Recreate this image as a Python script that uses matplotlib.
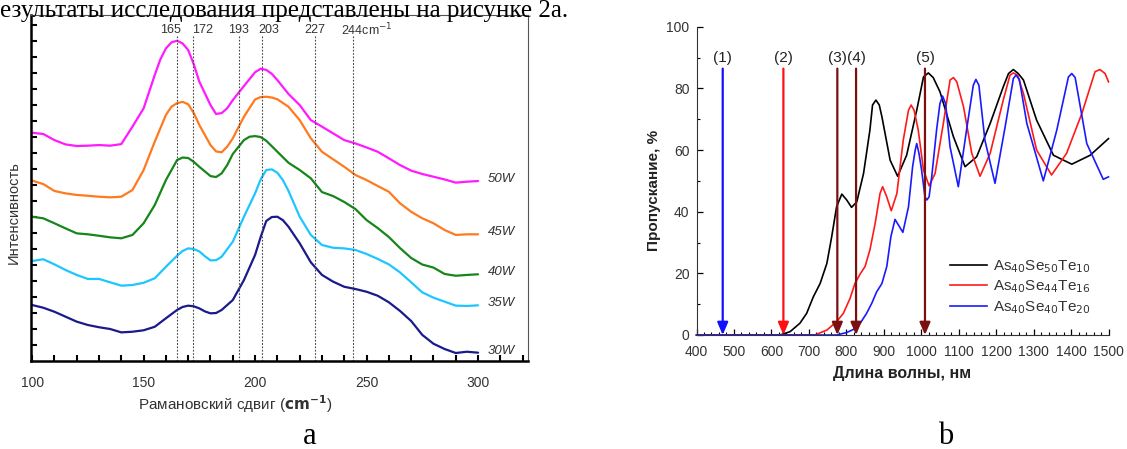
import numpy as np
import matplotlib
matplotlib.use("Agg")
import matplotlib.pyplot as plt

plt.rcParams['font.family'] = ['Liberation Sans', 'DejaVu Sans']

# ---- (a) Raman spectra, one shift list per trace ----
shift_50w = [100, 105, 110, 115, 120, 125, 130, 135, 140, 145, 150, 155, 157.5, 160,
             162.5, 165, 167.5, 170, 172.5, 175, 180, 182.5, 185, 187.5, 190, 195, 200,
             202.5, 205, 207.5, 210, 215, 220, 225, 230, 235, 240, 245, 250, 255, 260,
             265, 270, 275, 280, 285, 290, 295, 300]
int_50w = [14.27, 14.19, 13.81, 13.54, 13.44, 13.46, 13.50, 13.46, 13.56, 14.65, 15.79,
           17.88, 18.85, 19.54, 19.92, 20.02, 19.85, 19.44, 18.55, 17.46, 16.00, 15.44,
           15.50, 15.80, 16.31, 17.19, 18.05, 18.27, 18.20, 17.95, 17.56, 16.69, 16.00,
           15.06, 14.65, 14.23, 13.81, 13.60, 13.35, 13.08, 12.67, 12.25, 11.90, 11.69,
           11.52, 11.35, 11.15, 11.21, 11.25]

shift_45w = [100, 105, 110, 115, 120, 125, 130, 135, 140, 145, 150, 155, 160, 162.5,
             165, 167.5, 170, 172.5, 175, 180, 182.5, 185, 187.5, 190, 195, 200, 202.5,
             205, 207.5, 210, 215, 220, 225, 230, 235, 240, 245, 250, 255, 260, 265,
             270, 275, 280, 285, 290, 295, 300]
int_45w = [11.28, 11.06, 10.63, 10.48, 10.38, 10.33, 10.27, 10.23, 10.27, 10.69, 11.94,
           13.71, 15.38, 15.90, 16.12, 16.20, 16.05, 15.50, 14.75, 13.50, 13.10, 13.05,
           13.40, 13.92, 15.27, 16.35, 16.50, 16.52, 16.47, 16.36, 15.89, 15.06, 13.92,
           13.08, 12.61, 12.14, 11.63, 11.31, 10.94, 10.58, 9.86, 9.33, 8.92, 8.61,
           8.19, 7.88, 7.92, 7.92]

shift_40w = [100, 105, 110, 115, 120, 125, 130, 135, 140, 145, 150, 155, 160, 165,
             167.5, 170, 172.5, 175, 180, 182.5, 185, 187.5, 190, 195, 197.5, 200, 202.5,
             205, 210, 215, 220, 225, 230, 235, 240, 245, 250, 255, 260, 265, 270, 275,
             280, 285, 290, 295, 300]
int_40w = [9.02, 8.92, 8.61, 8.29, 7.98, 7.92, 7.83, 7.73, 7.67, 7.88, 8.61, 9.75,
           11.31, 12.56, 12.72, 12.69, 12.45, 12.14, 11.56, 11.50, 11.73, 12.25, 12.94,
           13.81, 14.02, 14.06, 14.00, 13.77, 13.08, 12.39, 11.94, 11.42, 10.56, 10.31,
           9.94, 9.50, 8.81, 8.31, 7.75, 7.06, 6.44, 6.03, 5.84, 5.44, 5.33, 5.38, 5.42]

shift_35w = [100, 105, 110, 115, 120, 125, 130, 135, 140, 145, 150, 155, 160, 165,
             167.5, 170, 172.5, 175, 177.5, 180, 182.5, 185, 190, 195, 200, 202.5, 205,
             207.5, 210, 212.5, 215, 220, 225, 230, 235, 240, 245, 250, 255, 260, 265,
             270, 275, 280, 285, 290, 295, 300]
int_35w = [6.25, 6.36, 6.04, 5.69, 5.38, 5.13, 5.13, 4.92, 4.71, 4.75, 4.89, 5.17,
           5.89, 6.58, 6.88, 7.04, 7.00, 6.85, 6.55, 6.29, 6.30, 6.52, 7.46, 9.02,
           10.48, 11.35, 11.94, 11.98, 11.77, 11.30, 10.63, 9.02, 7.88, 7.25, 7.08,
           7.04, 6.94, 6.69, 6.38, 6.04, 5.54, 4.92, 4.29, 3.96, 3.71, 3.46, 3.44, 3.48]

shift_30w = [100, 105, 110, 115, 120, 125, 130, 135, 140, 145, 150, 155, 160, 165,
             167.5, 170, 172.5, 175, 177.5, 180, 182.5, 185, 190, 195, 200, 202.5, 205,
             207.5, 210, 212.5, 215, 220, 225, 230, 235, 240, 245, 250, 255, 260, 265,
             270, 275, 280, 285, 290, 295, 300]
int_30w = [3.50, 3.33, 3.08, 2.77, 2.46, 2.25, 2.11, 2.00, 1.79, 1.83, 1.92, 2.14,
           2.67, 3.19, 3.38, 3.46, 3.42, 3.29, 3.10, 2.98, 3.00, 3.19, 3.81, 5.06,
           6.63, 7.75, 8.75, 9.00, 9.02, 8.80, 8.39, 7.36, 6.17, 5.38, 4.96, 4.64,
           4.50, 4.33, 4.08, 3.67, 3.13, 2.50, 1.63, 1.08, 0.75, 0.50, 0.58, 0.52]

powers = ['50W', '45W', '40W', '35W', '30W']
peaks = [165, 172, 193, 203, 227, 244]
peak_labels = ['165', '172', '193', '203', '227', '244cm$^{-1}$']

# ---- (b) transmission spectra ----
wl_10 = [400, 623, 650, 676, 694, 712, 730, 748, 761, 774, 788, 801, 814, 828,
         846, 863, 870, 879, 888, 895, 917, 937, 961, 988, 1006, 1019, 1032, 1050,
         1086, 1117, 1148, 1184, 1219, 1233, 1246, 1259, 1273, 1308, 1353, 1402,
         1451, 1500]
tr_10 = [0, 0, 1.1, 3.8, 7.0, 12.4, 16.7, 23.2, 31.9, 41.6, 45.7, 43.8, 41.4, 43.2,
         52.4, 66.5, 74.6, 76.2, 74.6, 70.8, 56.7, 51.5, 58.3, 72.9, 83.7, 85.0, 83.5, 78.9,
         64.3, 54.6, 57.8, 68.6, 80.5, 84.8, 86.1, 84.8, 82.7, 69.7, 58.3, 55.4,
         58.3, 63.7]
wl_16 = [400, 716, 748, 774, 792, 810, 823, 837, 850, 863, 877, 890, 897, 908,
         920, 935, 952, 966, 973, 981, 992, 1006, 1021, 1037, 1059, 1077, 1086, 1095,
         1113, 1135, 1157, 1184, 1219, 1237, 1246, 1257, 1273, 1308, 1348, 1388,
         1429, 1464, 1477, 1491, 1500]
tr_16 = [0, 0, 1.6, 4.3, 7.0, 11.9, 16.7, 19.8, 22.2, 27.6, 36.2, 45.9, 48.1, 44.8,
         40.3, 45.9, 63.2, 72.9, 74.6, 72.9, 66.5, 53.5, 48.4, 52.4, 68.6, 82.7, 83.5, 82.1,
         74.0, 58.9, 51.5, 58.9, 76.2, 84.3, 85.0, 84.3, 78.3, 60.0, 51.9, 58.9,
         71.9, 85.4, 86.1, 84.8, 82.1]
wl_20 = [400, 774, 801, 819, 837, 854, 868, 881, 895, 908, 919, 930, 951, 966,
         977, 984, 988, 994, 1001, 1010, 1015, 1021, 1028, 1041, 1050, 1057, 1065, 1077,
         1099, 1121, 1139, 1146, 1154, 1170, 1197, 1224, 1246, 1253, 1262, 1282,
         1326, 1362, 1393, 1402, 1411, 1442, 1486, 1500]
tr_20 = [0, 0, 0.8, 1.8, 3.8, 7.0, 10.3, 14.0, 16.7, 22.2, 31.9, 37.5, 33.3, 41.6,
         54.6, 60.0, 62.1, 58.9, 53.5, 44.8, 43.8, 44.8, 51.3, 66.5, 75.1, 77.5, 75.1, 61.0,
         48.1, 66.5, 81.0, 82.9, 81.0, 63.2, 49.2, 67.5, 83.2, 84.3, 82.9, 68.6,
         50.0, 66.5, 83.7, 84.8, 83.5, 62.1, 50.5, 51.3]
laser_nm = [470, 632, 776, 826, 1010]
laser_tags = ['(1)', '(2)', '(3)', '(4)', '(5)']

W, H = 1127, 449
fig = plt.figure(figsize=(W / 100, H / 100), dpi=100)

# ---------------- panel a ----------------
ax1 = fig.add_axes([31 / W, (H - 361) / H, (528 - 31) / W, (361 - 15) / H])
ax1.set_xlim(99.5, 322.4)
ax1.set_ylim(0, 21.63)

traces = [(shift_50w, int_50w), (shift_45w, int_45w), (shift_40w, int_40w),
          (shift_35w, int_35w), (shift_30w, int_30w)]
colors_a = ['#ff1aff', '#ff7a1f', '#17861a', '#1ec6ff', '#1a1a8a']
for (xs, vals), c, tag in zip(traces, colors_a, powers):
    ax1.plot(xs, vals, color=c, lw=1.6, solid_joinstyle='round', solid_capstyle='round')
    ax1.text(304.5, vals[-1] + 0.12, tag, fontsize=9.5, style='italic',
             color='#333333', ha='left', va='center')

ax1.vlines(peaks, 0, 20.4, colors='#444444', linestyles=(0, (1.5, 1.5)), lw=0.8)
label_x = [162, 176.5, 192.4, 206, 226.6, 238.6]
for px, lab in zip(label_x, peak_labels):
    ha = 'left' if 'cm' in lab else 'center'
    ax1.text(px, 20.72, lab, fontsize=9, color='#333333', ha=ha, va='center')

for side in ['left', 'bottom']:
    ax1.spines[side].set_linewidth(1.8)
    ax1.spines[side].set_color('black')
for side in ['top', 'right']:
    ax1.spines[side].set_linewidth(0.8)
    ax1.spines[side].set_color('#555555')

ax1.set_xticks([100, 150, 200, 250, 300])
ax1.set_xticks(np.arange(110, 321, 10), minor=True)
ax1.set_yticks(np.arange(1, 22, 1))
ax1.tick_params(axis='y', direction='in', length=4, width=1.5, labelleft=False)
ax1.tick_params(axis='x', which='both', direction='in', length=4, width=1.5,
                labelsize=10, labelcolor='#333333', pad=11)
ax1.text(0.41, -0.125, 'Рамановский сдвиг ($\\mathbf{cm^{-1}}$)', transform=ax1.transAxes,
         fontsize=11, color='#333333', ha='center', va='center')
ax1.text(-0.034, 0.43, 'Интенсивность', transform=ax1.transAxes, rotation=90,
         fontsize=10.5, color='#333333', ha='center', va='center')

# ---------------- panel b ----------------
ax2 = fig.add_axes([696.5 / W, (H - 335) / H, 412 / W, (335 - 26.7) / H])
ax2.set_xlim(400, 1500)
ax2.set_ylim(0, 100)

for wl, tr, c, lab in [(wl_10, tr_10, 'black', 'As$_{40}$Se$_{50}$Te$_{10}$'),
                       (wl_16, tr_16, '#ff1a1a', 'As$_{40}$Se$_{44}$Te$_{16}$'),
                       (wl_20, tr_20, '#1a1aff', 'As$_{40}$Se$_{40}$Te$_{20}$')]:
    ax2.plot(wl, tr, color=c, lw=1.2, label=lab, clip_on=False, solid_joinstyle='round')

arrow_colors = ['#1010ff', '#ff1010', '#7a1010', '#7a1010', '#7a1010']
for nm, tag, c in zip(laser_nm, laser_tags, arrow_colors):
    ax2.annotate('', xy=(nm, 0), xytext=(nm, 86.4),
                 arrowprops=dict(arrowstyle='-|>,head_length=0.75,head_width=0.32',
                                 color=c, lw=1.6, mutation_scale=10,
                                 shrinkA=0, shrinkB=0), annotation_clip=False)
    ax2.text(nm, 89.8, tag, fontsize=11, color='#222222', ha='center', va='center')

for side in ['top', 'right']:
    ax2.spines[side].set_visible(False)
ax2.spines['left'].set_color('#333333')
ax2.spines['bottom'].set_color('#333333')
ax2.set_xticks(np.arange(400, 1501, 100))
ax2.set_xticks(np.arange(400, 1501, 20), minor=True)
ax2.set_yticks(np.arange(0, 101, 20))
ax2.set_yticks(np.arange(10, 100, 20), minor=True)
ax2.tick_params(which='major', direction='in', length=4, width=0.9,
                labelsize=10, labelcolor='#333333')
ax2.tick_params(axis='x', which='major', pad=7)
ax2.tick_params(axis='y', which='major', pad=5)
ax2.tick_params(which='minor', direction='in', length=2.5, width=0.8)
ax2.set_xlabel('Длина волны, нм', fontsize=11.5, fontweight='bold', color='#222222', labelpad=5)
ax2.set_ylabel('Пропускание, %', fontsize=11, fontweight='bold', color='#222222', labelpad=-1)
ax2.yaxis.set_label_coords(-0.085, 0.47)

leg = ax2.legend(loc='upper left', bbox_to_anchor=(0.615, 0.25), frameon=False,
                 fontsize=11, handlelength=2.4, handletextpad=0.4, labelspacing=0.25,
                 borderpad=0, borderaxespad=0)
for t in leg.get_texts():
    t.set_color('#333333')

# ---------------- document text ----------------
fig.text(0.0, 1 - 17.5 / H, 'езультаты исследования представлены на рисунке 2а.',
         fontsize=18, family='Liberation Serif', ha='left', va='baseline')
fig.text(310 / W, 1 - 436 / H, 'a', fontsize=22, family='Liberation Serif',
         ha='center', va='center')
fig.text(946 / W, 1 - 436 / H, 'b', fontsize=22, family='Liberation Serif',
         ha='center', va='center')

fig.savefig('out.png', dpi=100)
